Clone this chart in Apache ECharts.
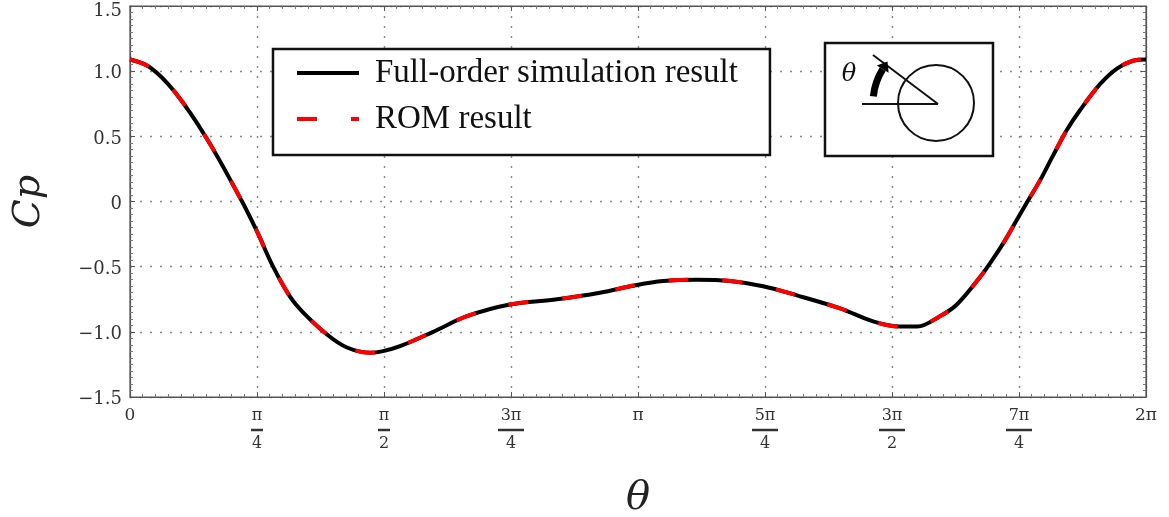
<!DOCTYPE html>
<html><head><meta charset="utf-8">
<script src="https://cdn.jsdelivr.net/npm/echarts@6/dist/echarts.min.js"></script>
<style>html,body{margin:0;padding:0;background:#fff}#c{width:1169px;height:517px}</style>
</head><body><div id="c"></div>
<script>
// theta in degrees (axis labelled in multiples of pi)
const thetaDeg = [0, 7.1, 15.9, 27.3, 39.7, 45.0, 50.7, 56.7, 61.3, 69.8, 76.9, 85.0, 89.3, 95.7, 107.4, 119.4, 134.6, 151.3, 166.5, 179.6, 188.9, 200.9, 212.6, 224.3, 236.3, 251.6, 263.3, 272.8, 278.9, 287.0, 293.0, 301.2, 305.8, 310.0, 314.0, 318.0, 322.4, 327.0, 332.0, 336.6, 343.7, 349.7, 355.4, 360];
const cpFull = [1.09, 1.03, 0.84, 0.48, 0.00, -0.23, -0.50, -0.73, -0.85, -1.02, -1.12, -1.16, -1.15, -1.11, -1.00, -0.88, -0.79, -0.75, -0.70, -0.64, -0.61, -0.60, -0.61, -0.65, -0.72, -0.82, -0.92, -0.96, -0.96, -0.88, -0.79, -0.58, -0.44, -0.30, -0.15, 0.00, 0.16, 0.35, 0.55, 0.70, 0.90, 1.02, 1.08, 1.09];
const cpRom = [1.09, 1.03, 0.84, 0.48, 0.00, -0.23, -0.50, -0.73, -0.85, -1.02, -1.12, -1.16, -1.15, -1.11, -1.00, -0.88, -0.79, -0.75, -0.70, -0.64, -0.61, -0.60, -0.61, -0.65, -0.72, -0.82, -0.92, -0.96, -0.96, -0.88, -0.79, -0.58, -0.44, -0.30, -0.15, 0.00, 0.16, 0.35, 0.55, 0.70, 0.90, 1.02, 1.08, 1.09];
const xTickLabels = ['0', 'π/4', 'π/2', '3π/4', 'π', '5π/4', '3π/2', '7π/4', '2π'];
const yTickLabels = ['−1.5', '−1.0', '−0.5', '0', '0.5', '1.0', '1.5'];
const seriesNames = ['Full-order simulation result', 'ROM result'];

const chart = echarts.init(document.getElementById('c'));
const tickFont = 'DejaVu Serif';
const lab = { fontFamily: tickFont, color: '#333', align: 'center' };

function xFmt(v) {
  const s = xTickLabels[Math.round(v / 45)];
  if (s === undefined) return '';
  if (s.indexOf('/') >= 0) {
    const [num, den] = s.split('/');
    const bar = num.length > 1 ? 'b2' : 'b1';
    return '{n|' + num + '}\n{' + bar + '| }\n{d|' + den + '}';
  }
  return '{s|' + s + '}';
}
function yFmt(v) {
  const i = Math.round((v + 1.5) / 0.5);
  if (yTickLabels[i] === undefined) return '';
  return (i === yTickLabels.length - 1 ? '{t|' : '{y|') + yTickLabels[i] + '}';
}

const gridLine = { show: true, lineStyle: { color: '#888', width: 1.4, type: [2, 8] } };
const axisLineStyle = { show: true, onZero: false, lineStyle: { color: '#555', width: 1.2 } };
const majorTick = { show: true, inside: true, length: 5, lineStyle: { color: '#555' } };
const minorTickS = { show: true, splitNumber: 10, length: 3, lineStyle: { color: '#777' } };
const yLab = { fontFamily: tickFont, fontSize: 18, color: '#333' };

// inset arrow geometry
const cx = 937, cy = 103, ar = 64;
const a0 = 186 * Math.PI / 180, a1 = 212 * Math.PI / 180;
const ex = cx + ar * Math.cos(a1), ey = cy + ar * Math.sin(a1);
const tx = -Math.sin(a1), ty = Math.cos(a1);
const nx = Math.cos(a1), ny = Math.sin(a1);
const arrowPts = [[ex + 9 * tx, ey + 9 * ty], [ex + 7 * nx, ey + 7 * ny], [ex - 7 * nx, ey - 7 * ny]];

chart.setOption({
  animation: false,
  backgroundColor: '#fff',
  grid: { left: 130, right: 23, top: 6, bottom: 120, show: true, borderColor: '#555', borderWidth: 1.2, outerBoundsMode: 'none', containLabel: false },
  legend: {
    left: 273, top: 49, orient: 'vertical',
    data: seriesNames,
    itemWidth: 62, itemHeight: 36, itemGap: 10,
    padding: [6, 32, 18, 22],
    borderColor: '#111', borderWidth: 2.5, backgroundColor: '#fff',
    itemStyle: { opacity: 0 },
    lineStyle: { width: 4 },
    textStyle: { fontFamily: 'Liberation Serif', fontSize: 33, color: '#111', lineHeight: 36, padding: [0, 0, 0, 11] }
  },
  xAxis: [{
    type: 'value', min: 0, max: 360, interval: 45,
    axisLine: axisLineStyle, axisTick: majorTick, minorTick: minorTickS,
    splitLine: gridLine,
    axisLabel: {
      formatter: xFmt, margin: 11,
      rich: {
        n: Object.assign({ fontSize: 16, lineHeight: 16 }, lab),
        d: Object.assign({ fontSize: 16, lineHeight: 16 }, lab),
        s: Object.assign({ fontSize: 17, lineHeight: 16 }, lab),
        b1: { width: 12, height: 2.5, lineHeight: 12, backgroundColor: '#333', align: 'center' },
        b2: { width: 26, height: 2.5, lineHeight: 12, backgroundColor: '#333', align: 'center' }
      }
    },
    name: 'θ', nameLocation: 'middle', nameGap: 82,
    nameTextStyle: { fontFamily: 'DejaVu Serif', fontStyle: 'italic', fontSize: 40, color: '#222' }
  }, {
    type: 'value', min: 0, max: 360, interval: 45, position: 'top',
    axisLine: axisLineStyle, axisTick: majorTick, minorTick: minorTickS,
    splitLine: { show: false }, axisLabel: { show: false }
  }],
  yAxis: [{
    type: 'value', min: -1.5, max: 1.5, interval: 0.5,
    axisLine: axisLineStyle, axisTick: majorTick, minorTick: minorTickS,
    splitLine: gridLine,
    axisLabel: {
      formatter: yFmt, margin: 8,
      rich: {
        y: Object.assign({ padding: [5, 0, 0, 0] }, yLab),
        t: Object.assign({ padding: [11, 0, 0, 0] }, yLab)
      }
    },
    name: 'Cp', nameLocation: 'middle', nameGap: 82, nameRotate: 90,
    nameTextStyle: { fontFamily: 'DejaVu Serif', fontStyle: 'italic', fontSize: 38, color: '#222' }
  }, {
    type: 'value', min: -1.5, max: 1.5, interval: 0.5, position: 'right',
    axisLine: axisLineStyle, axisTick: majorTick, minorTick: minorTickS,
    splitLine: { show: false }, axisLabel: { show: false }
  }],
  series: [{
    name: seriesNames[0], type: 'line', symbol: 'none', smooth: 0.35,
    data: thetaDeg.map((t, i) => [t, cpFull[i]]),
    lineStyle: { color: '#000', width: 4 }, itemStyle: { color: '#000' }, z: 3
  }, {
    name: seriesNames[1], type: 'line', symbol: 'none', smooth: 0.35,
    data: thetaDeg.map((t, i) => [t, cpRom[i]]),
    lineStyle: { color: '#ff0000', width: 4, type: [20, 34] }, itemStyle: { color: '#ff0000' }, z: 4
  }],
  graphic: [
    { type: 'rect', shape: { x: 825, y: 43, width: 168, height: 113 }, style: { fill: '#fff', stroke: '#111', lineWidth: 2.5 }, z: 100 },
    { type: 'circle', shape: { cx: 936, cy: 103, r: 38 }, style: { fill: 'none', stroke: '#111', lineWidth: 2 }, z: 101 },
    { type: 'line', shape: { x1: 862, y1: 104, x2: 938, y2: 104 }, style: { stroke: '#111', lineWidth: 2 }, z: 101 },
    { type: 'line', shape: { x1: 873, y1: 55, x2: 938, y2: 104 }, style: { stroke: '#111', lineWidth: 2 }, z: 101 },
    { type: 'arc', shape: { cx: cx, cy: cy, r: ar, startAngle: a0, endAngle: a1, clockwise: true }, style: { fill: 'none', stroke: '#000', lineWidth: 7 }, z: 101 },
    { type: 'polygon', shape: { points: arrowPts }, style: { fill: '#000' }, z: 101 },
    { type: 'text', x: 849, y: 75, style: { text: 'θ', fontFamily: 'DejaVu Serif', fontStyle: 'italic', fontSize: 24, fill: '#111', align: 'center', verticalAlign: 'middle' }, z: 101 }
  ]
});
</script></body></html>
